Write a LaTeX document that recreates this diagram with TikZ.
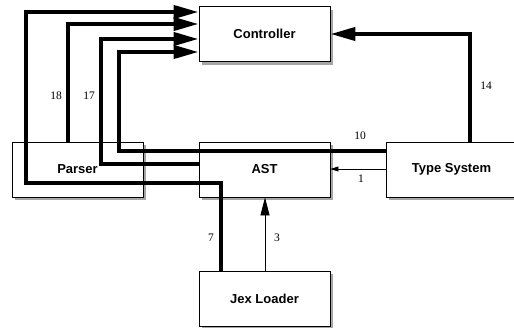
\documentclass[tikz,border=0pt]{standalone}
\usepackage{fontspec}
\setmainfont{Liberation Serif}
\newfontfamily\boxfont{Liberation Sans}
\usetikzlibrary{arrows.meta,shadows}
\tikzset{
  comp/.style={draw=black, line width=0.8pt, fill=white, minimum width=131pt, minimum height=55pt,
    inner sep=0pt, font=\boxfont\bfseries\fontsize{13}{15}\selectfont,
    drop shadow={shadow xshift=3pt, shadow yshift=-3pt, fill=black!35, opacity=1}},
  bigflow/.style={line width=4pt, -{Triangle[length=25pt,width=13pt]}},
  thinflow/.style={line width=0.8pt},
  num/.style={font=\fontsize{11.5}{13}\selectfont, inner sep=0pt},
}
\begin{document}
\begin{tikzpicture}[x=1pt,y=-1pt]
\useasboundingbox (0,0) rectangle (514,327);
% boxes
\node[comp] (ctrl) at (264.5,34) {Controller};
\node[comp] (parser) at (77.5,169.5) {Parser};
\node[comp] (ast) at (264.5,169.5) {AST};
\node[comp] (types) at (451.5,169.5) {Type System};
\node[comp] (jex) at (264.5,298.5) {Jex Loader};
% thick flows to controller
\draw[bigflow] (jex.north -| 221,0) |- (26,183) |- (ctrl.west |- 0,12);
\draw[bigflow] (parser.north -| 68,0) |- (ctrl.west |- 0,24);
\draw[bigflow] (ast.west |- 0,164) -| (101,39) -- (ctrl.west |- 0,39);
\draw[bigflow] (types.west |- 0,151) -| (119,52) -- (ctrl.west |- 0,52);
\draw[bigflow] (types.north -| 470,0) |- (ctrl.east |- 0,34);
% thin flows
\draw[thinflow, -{Triangle[length=8pt,width=5pt]}] (types.west |- 0,169) -- (ast.east |- 0,169);
\draw[thinflow, -{Triangle[length=18pt,width=9pt]}] (jex.north -| 265,0) -- (ast.south -| 265,0);
% labels
\node[num] (l18) at (56,96) {18};
\node[num] (l17) at (89,96) {17};
\node[num] (l10) at (360,136) {10};
\node[num] (l14) at (486,86) {14};
\node[num] (l1) at (361,179) {1};
\node[num] (l7) at (211,238) {7};
\node[num] (l3) at (277,238) {3};
\end{tikzpicture}
\end{document}
